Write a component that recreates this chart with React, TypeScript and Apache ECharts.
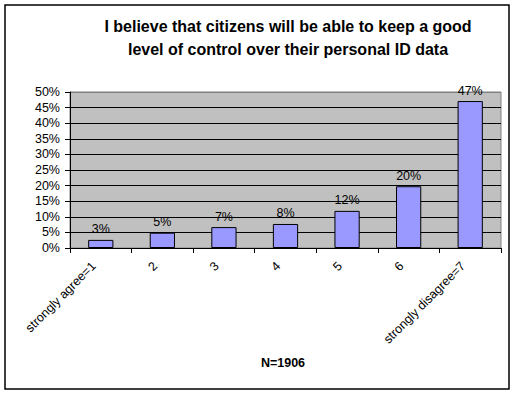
import React, { useEffect, useRef } from "react";
import * as echarts from "echarts";

const categories = ["strongly agree=1", "2", "3", "4", "5", "6", "strongly disagree=7"];
const values = [2.6, 4.9, 6.7, 7.7, 11.9, 19.8, 47.1];
const valueLabels = ["3%", "5%", "7%", "8%", "12%", "20%", "47%"];
const titleLines = [
  "I believe that citizens will be able to keep a good",
  "level of control over their personal ID data",
];
const footnote = "N=1906";

export default function App() {
  const ref = useRef<HTMLDivElement>(null);
  useEffect(() => {
    document.body.style.margin = "0";
    const chart = echarts.init(ref.current!, null, { renderer: "svg" });
    const font = "Arial, 'Liberation Sans', sans-serif";
    const splitColors = ["#000", "#000", "#000", "#000", "#000", "#000", "#000", "#000", "#000", "#000", "#808080"];
    chart.setOption({
      animation: false,
      backgroundColor: "#ffffff",
      textStyle: { fontFamily: font },
      title: {
        text: titleLines.join("\n"),
        left: 283,
        top: 10,
        textAlign: "center",
        textStyle: { fontFamily: font, fontSize: 16, fontWeight: "bold", color: "#000", lineHeight: 23 },
      },
      graphic: [
        {
          type: "rect",
          shape: { x: 5, y: 5, width: 504, height: 384 },
          style: { fill: "none", stroke: "#000", lineWidth: 1.5 },
          z: 100,
        },
        {
          type: "text",
          x: 283,
          y: 363,
          style: {
            text: footnote,
            fontFamily: font,
            fontSize: 12.5,
            fontWeight: "bold",
            fill: "#000",
            align: "center",
            verticalAlign: "middle",
          },
        },
      ],
      grid: {
        left: 70,
        right: 15,
        top: 92,
        bottom: 146,
        show: true,
        backgroundColor: "#c0c0c0",
        borderColor: "#808080",
        borderWidth: 1,
      },
      xAxis: {
        type: "category",
        data: categories,
        boundaryGap: true,
        axisLine: { show: true, lineStyle: { color: "#000", width: 1 } },
        axisTick: { show: true, length: 5, alignWithLabel: false, lineStyle: { color: "#000" } },
        axisLabel: {
          interval: 0,
          rotate: 45,
          fontFamily: font,
          fontSize: 12.5,
          color: "#000",
          margin: 9,
          padding: [0, 10, 0, 0],
        },
      },
      yAxis: {
        type: "value",
        min: 0,
        max: 50,
        interval: 5,
        axisLine: { show: true, lineStyle: { color: "#000", width: 1 } },
        axisTick: { show: true, length: 5, lineStyle: { color: "#000" } },
        axisLabel: { formatter: "{value}%", fontFamily: font, fontSize: 12.5, color: "#000", margin: 10 },
        splitLine: { show: true, lineStyle: { color: splitColors, width: 1 } },
      },
      series: [
        {
          type: "bar",
          data: values,
          barWidth: "41%",
          itemStyle: { color: "#9999ff", borderColor: "#000", borderWidth: 1 },
          label: {
            show: true,
            position: "top",
            distance: 4,
            fontFamily: font,
            fontSize: 12.5,
            color: "#000",
            formatter: (p: any) => valueLabels[p.dataIndex],
          },
        },
      ],
    });
    return () => chart.dispose();
  }, []);
  return <div ref={ref} style={{ width: 516, height: 394 }} />;
}
